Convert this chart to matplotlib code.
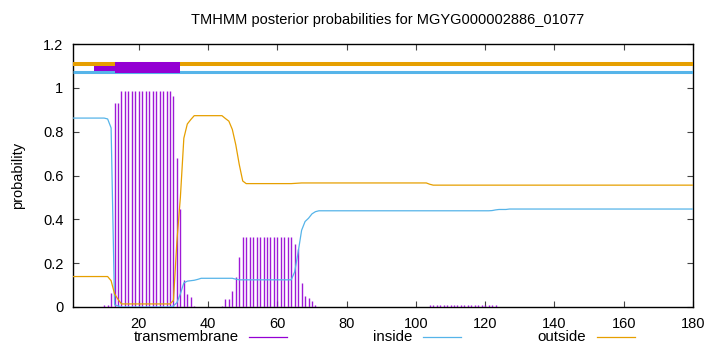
import matplotlib
matplotlib.use("Agg")
import matplotlib.pyplot as plt
from matplotlib.lines import Line2D
import numpy as np

plt.rcParams['font.family'] = ['Liberation Sans', 'DejaVu Sans']

title = "TMHMM posterior probabilities for MGYG000002886_01077"

residues = list(range(1, 181))

transmembrane = [
    0, 0, 0, 0, 0, 0, 0, 0, 0, 0.007,
    0.01, 0.063, 0.93, 0.93, 0.985, 0.985, 0.985, 0.985, 0.985, 0.985,
    0.985, 0.985, 0.985, 0.985, 0.985, 0.985, 0.985, 0.985, 0.985, 0.962,
    0.68, 0.445, 0.124, 0.058, 0.047, 0.006, 0.002, 0, 0, 0,
    0, 0, 0, 0.006, 0.035, 0.038, 0.075, 0.139, 0.228, 0.318,
    0.318, 0.318, 0.318, 0.318, 0.318, 0.318, 0.318, 0.318, 0.318, 0.318,
    0.318, 0.318, 0.318, 0.318, 0.289, 0.265, 0.111, 0.05, 0.043, 0.026,
    0.01, 0, 0, 0, 0, 0, 0, 0, 0, 0,
    0, 0, 0, 0, 0, 0, 0, 0, 0, 0,
    0, 0, 0, 0, 0, 0, 0, 0, 0, 0,
    0, 0, 0, 0.008, 0.008, 0.008, 0.008, 0.008, 0.008, 0.008,
    0.008, 0.008, 0.008, 0.008, 0.008, 0.008, 0.008, 0.008, 0.008, 0.008,
    0.008, 0.008, 0.008, 0, 0, 0, 0, 0, 0, 0,
    0, 0, 0, 0, 0, 0, 0, 0, 0, 0,
    0, 0, 0, 0, 0, 0, 0, 0, 0, 0,
    0, 0, 0, 0, 0, 0, 0, 0, 0, 0,
    0, 0, 0, 0, 0, 0, 0, 0, 0, 0,
    0, 0, 0, 0, 0, 0, 0, 0, 0, 0,
]

inside = [
    0.862, 0.862, 0.862, 0.862, 0.862, 0.862, 0.862, 0.862, 0.862, 0.862,
    0.858, 0.817, 0.01, 0.005, 0, 0, 0, 0, 0, 0,
    0, 0, 0, 0, 0, 0, 0, 0, 0, 0.005,
    0.02, 0.06, 0.11, 0.118, 0.12, 0.122, 0.126, 0.131, 0.131, 0.131,
    0.131, 0.131, 0.131, 0.131, 0.131, 0.131, 0.131, 0.127, 0.124, 0.124,
    0.124, 0.124, 0.124, 0.124, 0.124, 0.124, 0.124, 0.124, 0.124, 0.124,
    0.124, 0.124, 0.124, 0.124, 0.16, 0.25, 0.35, 0.39, 0.405, 0.425,
    0.435, 0.439, 0.439, 0.439, 0.439, 0.439, 0.439, 0.439, 0.439, 0.439,
    0.439, 0.439, 0.439, 0.439, 0.439, 0.439, 0.439, 0.439, 0.439, 0.439,
    0.439, 0.439, 0.439, 0.439, 0.439, 0.439, 0.439, 0.439, 0.439, 0.439,
    0.439, 0.439, 0.439, 0.439, 0.439, 0.439, 0.439, 0.439, 0.439, 0.439,
    0.439, 0.439, 0.439, 0.439, 0.439, 0.439, 0.439, 0.439, 0.439, 0.439,
    0.439, 0.44, 0.443, 0.445, 0.445, 0.445, 0.447, 0.447, 0.447, 0.447,
    0.447, 0.447, 0.447, 0.447, 0.447, 0.447, 0.447, 0.447, 0.447, 0.447,
    0.447, 0.447, 0.447, 0.447, 0.447, 0.447, 0.447, 0.447, 0.447, 0.447,
    0.447, 0.447, 0.447, 0.447, 0.447, 0.447, 0.447, 0.447, 0.447, 0.447,
    0.447, 0.447, 0.447, 0.447, 0.447, 0.447, 0.447, 0.447, 0.447, 0.447,
    0.447, 0.447, 0.447, 0.447, 0.447, 0.447, 0.447, 0.447, 0.447, 0.447,
]

outside = [
    0.139, 0.139, 0.139, 0.139, 0.139, 0.139, 0.139, 0.139, 0.139, 0.139,
    0.139, 0.12, 0.06, 0.035, 0.014, 0.014, 0.014, 0.014, 0.014, 0.014,
    0.014, 0.014, 0.014, 0.014, 0.014, 0.014, 0.014, 0.014, 0.014, 0.03,
    0.3, 0.5, 0.77, 0.835, 0.855, 0.873, 0.873, 0.873, 0.873, 0.873,
    0.873, 0.873, 0.873, 0.873, 0.86, 0.848, 0.81, 0.74, 0.65, 0.575,
    0.563, 0.563, 0.563, 0.563, 0.563, 0.563, 0.563, 0.563, 0.563, 0.563,
    0.563, 0.563, 0.563, 0.563, 0.564, 0.565, 0.566, 0.566, 0.566, 0.566,
    0.566, 0.566, 0.566, 0.566, 0.566, 0.566, 0.566, 0.566, 0.566, 0.566,
    0.566, 0.566, 0.566, 0.566, 0.566, 0.566, 0.566, 0.566, 0.566, 0.566,
    0.566, 0.566, 0.566, 0.566, 0.566, 0.566, 0.566, 0.566, 0.566, 0.566,
    0.566, 0.566, 0.566, 0.56, 0.556, 0.556, 0.556, 0.556, 0.556, 0.556,
    0.556, 0.556, 0.556, 0.556, 0.556, 0.556, 0.556, 0.556, 0.556, 0.556,
    0.556, 0.556, 0.556, 0.556, 0.556, 0.556, 0.556, 0.556, 0.556, 0.556,
    0.556, 0.556, 0.556, 0.556, 0.556, 0.556, 0.556, 0.556, 0.556, 0.556,
    0.556, 0.556, 0.556, 0.556, 0.556, 0.556, 0.556, 0.556, 0.556, 0.556,
    0.556, 0.556, 0.556, 0.556, 0.556, 0.556, 0.556, 0.556, 0.556, 0.556,
    0.556, 0.556, 0.556, 0.556, 0.556, 0.556, 0.556, 0.556, 0.556, 0.556,
    0.556, 0.556, 0.556, 0.556, 0.556, 0.556, 0.556, 0.556, 0.556, 0.556,
]

# top annotation band
band_outside_y = 1.11
band_inside_y = 1.071
tm_segment = (13, 32)
tm_segment_y = (1.066, 1.116)
minor_segment = (7, 13)
minor_segment_y = (1.078, 1.099)

x_ticks = [20, 40, 60, 80, 100, 120, 140, 160, 180]
y_ticks = [0, 0.2, 0.4, 0.6, 0.8, 1.0, 1.2]
y_tick_labels = ["0", "0.2", "0.4", "0.6", "0.8", "1", "1.2"]

c_tm = '#9400D3'
c_in = '#56B4E9'
c_out = '#E69F00'

fig = plt.figure(figsize=(7.2, 3.52), dpi=100)
ax = fig.add_axes([73 / 720, 1 - 307 / 352, 620 / 720, 263 / 352])

ax.vlines(residues, 0, transmembrane, color=c_tm, lw=1.0, alpha=0.9, zorder=3)
ax.plot(residues, inside, color=c_in, lw=0.9, zorder=4)
ax.plot(residues, outside, color=c_out, lw=0.9, zorder=4)

ax.hlines(band_outside_y, 1, 180, color=c_out, lw=2.9, zorder=5)
ax.hlines(band_inside_y, 1, 180, color=c_in, lw=2.2, zorder=5)
ax.fill_between(list(minor_segment), minor_segment_y[0], minor_segment_y[1],
                color=c_tm, lw=0, zorder=6)
ax.fill_between(list(tm_segment), tm_segment_y[0], tm_segment_y[1],
                color=c_tm, lw=0, zorder=6)

ax.set_xlim(1, 180)
ax.set_ylim(0, 1.2)
ax.set_xticks(x_ticks)
ax.set_yticks(y_ticks)
ax.set_yticklabels(y_tick_labels)
ax.tick_params(direction='in', top=True, right=True, length=4, width=0.8,
               labelsize=10.5, pad=7, color='#444444')
for s in ax.spines.values():
    s.set_linewidth(1.0)
    s.set_color('black')

ax.set_ylabel("probability", fontsize=10.5, labelpad=13)
fig.text(388 / 720, 1 - 20 / 352, title, ha='center', va='center', fontsize=10.5)

# key (gnuplot style: text then sample)
legend_labels = ["transmembrane", "inside", "outside"]
legend_colors = [c_tm, c_in, c_out]
ky = 1 - 337 / 352
for i, (lab, col) in enumerate(zip(legend_labels, legend_colors)):
    tx = (238.5 + 174 * i) / 720
    fig.text(tx, ky, lab, ha='right', va='center', fontsize=10.8)
    fig.add_artist(Line2D([(248.5 + 174 * i) / 720, (287 + 174 * i) / 720],
                          [ky, ky], color=col, lw=0.9,
                          transform=fig.transFigure))

fig.savefig("out.png", dpi=100)
